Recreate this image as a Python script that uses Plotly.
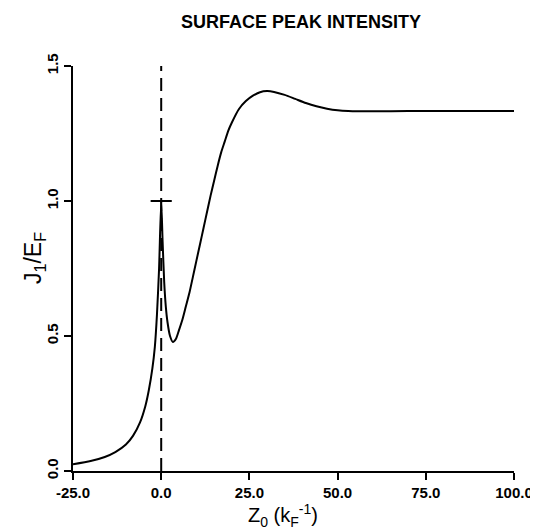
import plotly.graph_objects as go

# curve: J1/E_F vs Z0 (units of 1/kF)
z_left = [-25, -20, -16, -13, -10, -8, -6, -4.5, -3.5, -2.5, -1.8, -1.2, -0.6, 0]
j_left = [0.025, 0.037, 0.052, 0.07, 0.098, 0.13, 0.18, 0.24, 0.3, 0.38, 0.46, 0.58, 0.75, 1.0]

z_right = [0, 0.4, 0.85, 1.3, 1.8, 2.5, 3.3, 4.2, 5, 6, 7, 8, 9, 10, 11, 12, 13, 14, 15, 16,
           17, 18, 19, 20, 22, 24, 26, 28, 30, 32, 35, 38, 41, 44, 47, 50, 53, 56, 60, 70, 80, 90, 100]
j_right = [1.0, 0.85, 0.70, 0.61, 0.55, 0.50, 0.478, 0.49, 0.52, 0.56, 0.61, 0.66, 0.72, 0.78,
           0.84, 0.90, 0.96, 1.02, 1.075, 1.13, 1.18, 1.22, 1.26, 1.29, 1.34, 1.37, 1.39, 1.403,
           1.407, 1.404, 1.393, 1.378, 1.363, 1.351, 1.342, 1.336, 1.333, 1.332, 1.332, 1.333,
           1.333, 1.333, 1.333]

# dashed marker at the surface and the short bar at J1/E_F = 1
surface_z = [0, 0]
surface_j = [0, 1.5]
bar_z = [-3, 3]
bar_j = [1.0, 1.0]

x_ticks = [-25, 0, 25, 50, 75, 100]
x_labels = ["-25.0", "0.0", "25.0", "50.0", "75.0", "100.0"]
y_ticks = [0, 0.5, 1.0, 1.5]
y_labels = ["0.0", "0.5", "1.0", "1.5"]

fig = go.Figure()
fig.add_trace(go.Scatter(x=surface_z, y=surface_j, mode="lines",
                         line=dict(color="black", width=2, dash="13px,7px")))
fig.add_trace(go.Scatter(x=bar_z, y=bar_j, mode="lines", line=dict(color="black", width=2)))
fig.add_trace(go.Scatter(x=z_left + z_right[1:], y=j_left + j_right[1:], mode="lines",
                         line=dict(color="black", width=2, shape="spline", smoothing=0.6)))

# the page body adds an 8px margin, so the figure is 8px smaller than the window
font = "Liberation Sans, Arial, sans-serif"
fig.update_layout(
    width=530, height=523,
    margin=dict(l=65, r=24, t=58, b=60, autoexpand=False),
    paper_bgcolor="white", plot_bgcolor="white",
    showlegend=False,
    font=dict(family=font, color="black"),
)
fig.update_xaxes(
    range=[-25, 100], tickvals=x_ticks, ticktext=x_labels, automargin=False,
    showline=True, linecolor="black", linewidth=2, showgrid=False, zeroline=False,
    ticks="outside", ticklen=7, tickwidth=2, tickcolor="black",
    tickfont=dict(size=15, family=font, color="black", weight="bold"),
)
fig.update_yaxes(
    range=[0, 1.5], tickvals=y_ticks, ticktext=y_labels, tickangle=-90, automargin=False,
    showline=True, linecolor="black", linewidth=2, showgrid=False, zeroline=False,
    ticks="outside", ticklen=7, tickwidth=2, tickcolor="black",
    tickfont=dict(size=15, family=font, color="black", weight="bold"),
)

fig.add_annotation(text="SURFACE PEAK INTENSITY", xref="paper", yref="paper",
                   x=0.517, y=1.109, showarrow=False, xanchor="center", yanchor="middle",
                   font=dict(size=18, family=font, color="black", weight="bold"))
fig.add_annotation(text="Z<sub>0</sub> (k<sub>F</sub><sup>-1</sup>)", xref="paper", yref="paper",
                   x=0.476, y=-0.11, showarrow=False, xanchor="center", yanchor="middle",
                   font=dict(size=20, family=font, color="black"))
fig.add_annotation(text="J<sub>1</sub>/E<sub>F</sub>", xref="paper", yref="paper",
                   x=-0.086, y=0.526, showarrow=False, xanchor="center", yanchor="middle",
                   textangle=-90, font=dict(size=23, family=font, color="black"))

fig.write_html("out.html")
